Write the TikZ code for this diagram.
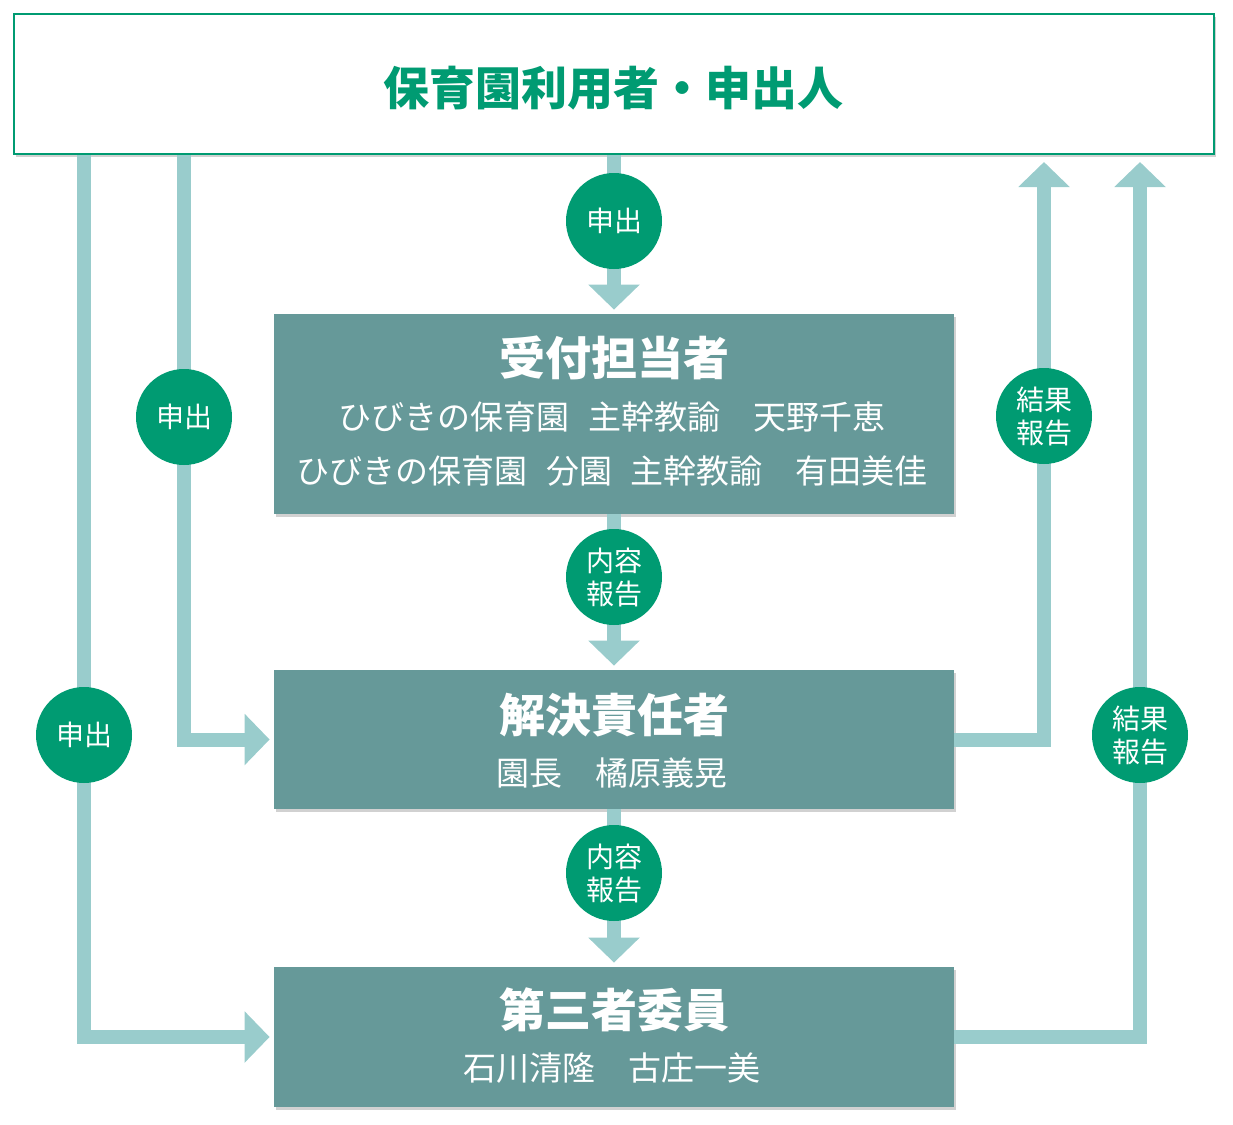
\documentclass[tikz,border=0pt]{standalone}
\usepackage{fontspec}
\setmainfont{Noto Sans CJK JP}
\usetikzlibrary{arrows.meta,shadows}
\definecolor{hgreen}{HTML}{009B72}
\definecolor{hbox}{HTML}{669999}
\definecolor{harrow}{HTML}{99CCCC}
\tikzset{
  flow/.style={harrow, line width=7pt, -{Triangle[width=25pt,length=12.5pt]}},
  softshadow/.style={drop shadow={shadow xshift=1.2pt, shadow yshift=-1.5pt, fill=black, opacity=0.18}},
  userbox/.style={draw=hgreen, line width=1pt, fill=white, minimum width=600pt, minimum height=70pt,
    inner sep=0pt, softshadow},
  stepbox/.style={fill=hbox, minimum width=340pt, inner sep=0pt, softshadow},
  tag/.style={circle, fill=hgreen, text=white, minimum size=48pt, inner sep=0pt,
    align=center, font=\fontsize{14}{16.5}\selectfont},
  head/.style={text=white, inner sep=0pt, font=\bfseries\fontsize{23}{23}\selectfont},
  sub/.style={text=white, inner sep=0pt, font=\fontsize{16.5}{16.5}\selectfont},
}
\newcommand{\gap}{\hspace{0.55em}}
\begin{document}
\begin{tikzpicture}[x=0.5pt, y=-0.5pt]
    \useasboundingbox (0,0) rectangle (1233,1125);

    % Boxes
    \node[userbox] (user) at (614,84) {};
    \node[stepbox, minimum height=100pt] (recep) at (614,414) {};
    \node[stepbox, minimum height=69.5pt] (resolve) at (614,739.5) {};
    \node[stepbox, minimum height=70pt] (third) at (614,1037) {};

    % Texts in the boxes
    \node[head, text=hgreen] (userT) at (613,88) {保育園利用者・申出人};
    \node[head] (recepT) at (614,358) {受付担当者};
    \node[sub] (recepA) at (612,417) {ひびきの保育園\gap 主幹教諭　天野千恵};
    \node[sub] (recepB) at (612,471) {ひびきの保育園\gap 分園\gap 主幹教諭　有田美佳};
    \node[head] (resolveT) at (614,715) {解決責任者};
    \node[sub] (resolveA) at (612,773) {園長　橘原義晃};
    \node[head] (thirdT) at (614,1010) {第三者委員};
    \node[sub] (thirdA) at (612,1068) {石川清隆　古庄一美};

    % Free ends of the report arrows
    \coordinate (backA) at (1044,162);
    \coordinate (backB) at (1140,162);

    % Connectors
    \draw[flow, shorten >=2pt] (user.south) -- (recep.north);
    \draw[flow, shorten >=2pt] (recep.south) -- (resolve.north);
    \draw[flow, shorten >=2pt] (resolve.south) -- (third.north);
    \draw[flow, shorten >=2pt] (user.south -| 84,0) |- (third.west);
    \draw[flow, shorten >=2pt] (user.south -| 184,0) |- (resolve.west);
    \draw[flow] (resolve.east) -| (backA);
    \draw[flow] (third.east) -| (backB);

    % Labels on the connectors
    \node[tag] (askC) at (614,221) {申出};
    \node[tag] (askB) at (184,417) {申出};
    \node[tag] (askA) at (84,735) {申出};
    \node[tag] (repA) at (614,577) {内容\\報告};
    \node[tag] (repB) at (614,873) {内容\\報告};
    \node[tag] (resA) at (1044,416) {結果\\報告};
    \node[tag] (resB) at (1140,735) {結果\\報告};
\end{tikzpicture}
\end{document}
